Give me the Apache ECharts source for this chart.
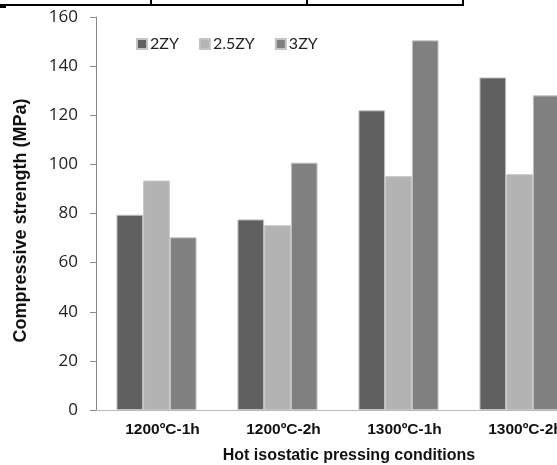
<!DOCTYPE html>
<html>
<head>
<meta charset="utf-8">
<script src="https://cdn.jsdelivr.net/npm/echarts@6/dist/echarts.min.js"></script>
<style>
html,body{margin:0;padding:0;overflow:hidden;background:#fff;}
#c{width:557px;height:465px;}
</style>
</head>
<body>
<div id="c"></div>
<script>
var categories = ['1200ºC-1h', '1200ºC-2h', '1300ºC-1h', '1300ºC-2h'];
var seriesNames = ['2ZY', '2.5ZY', '3ZY'];
var s2ZY = [79.5, 77.6, 122.0, 135.4];
var s25ZY = [93.4, 75.2, 95.2, 96.0];
var s3ZY = [70.3, 100.7, 150.5, 128.1];
var yTicks = [0, 20, 40, 60, 80, 100, 120, 140, 160];

var colors = ['#606060', '#b3b3b3', '#808080'];
var chart = echarts.init(document.getElementById('c'), null, {renderer: 'canvas'});
var values = [s2ZY, s25ZY, s3ZY];
var series = seriesNames.map(function (n, i) {
  return {
    name: n, type: 'bar', data: values[i], barWidth: 26.7, barGap: '0%',
    itemStyle: {color: colors[i], borderColor: '#c4c4c4', borderWidth: 1},
    emphasis: {disabled: true}
  };
});
chart.setOption({
  animation: false,
  backgroundColor: '#fff',
  grid: {left: 96, top: 17, width: 484, height: 393, containLabel: false, outerBoundsMode: 'none'},
  legend: {
    data: seriesNames, left: 131, top: 31, icon: 'rect', itemWidth: 10, itemHeight: 10,
    itemGap: 20,
    textStyle: {fontFamily: 'Lato', fontSize: 16, color: '#222', padding: [0, 0, 0, -2]}
  },
  xAxis: {
    type: 'category', data: categories,
    name: 'Hot isostatic pressing conditions', nameLocation: 'middle', nameGap: 38,
    nameTextStyle: {fontFamily: 'Liberation Sans', fontWeight: 'bold', fontSize: 16, color: '#111', padding: [0, 0, 0, 22]},
    axisLine: {lineStyle: {color: '#b8b8b8', width: 1}},
    axisTick: {show: true, alignWithLabel: true, inside: true, length: 6, lineStyle: {color: '#222'}},
    axisLabel: {margin: 12, fontFamily: 'Liberation Sans', fontWeight: 'bold', fontSize: 15.5, color: '#111', padding: [0, 0, 0, 12], hideOverlap: false}
  },
  yAxis: {
    type: 'value', min: yTicks[0], max: yTicks[yTicks.length - 1], interval: 20,
    name: 'Compressive strength (MPa)', nameLocation: 'middle', nameGap: 66, nameRotate: 90,
    nameTextStyle: {fontFamily: 'Liberation Sans', fontWeight: 'bold', fontSize: 18, color: '#111', padding: [0, 14, 0, 0]},
    axisLine: {show: true, lineStyle: {color: '#8a8a8a', width: 1}},
    axisTick: {show: true, length: 6, lineStyle: {color: '#8a8a8a'}},
    splitLine: {show: false},
    axisLabel: {margin: 18, fontFamily: 'Open Sans', fontSize: 17, color: '#222'}
  },
  graphic: [
    {type: 'line', shape: {x1: 0, y1: 5, x2: 463, y2: 5}, style: {stroke: '#000', lineWidth: 2}, silent: true},
    {type: 'line', shape: {x1: 151, y1: 0, x2: 151, y2: 5}, style: {stroke: '#000', lineWidth: 2}, silent: true},
    {type: 'line', shape: {x1: 307, y1: 0, x2: 307, y2: 5}, style: {stroke: '#000', lineWidth: 2}, silent: true},
    {type: 'line', shape: {x1: 463, y1: 0, x2: 463, y2: 6}, style: {stroke: '#000', lineWidth: 2}, silent: true},
    {type: 'line', shape: {x1: 0, y1: 7, x2: 6, y2: 7}, style: {stroke: '#000', lineWidth: 2}, silent: true}
  ],
  series: series
});
</script>
</body>
</html>
